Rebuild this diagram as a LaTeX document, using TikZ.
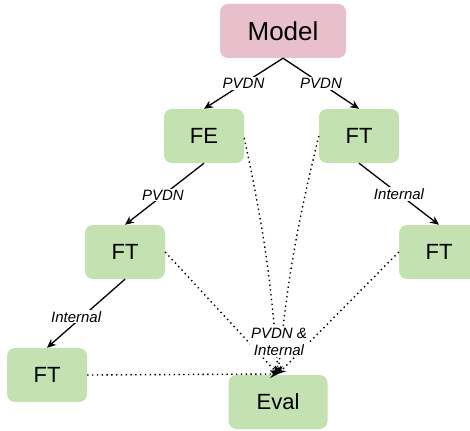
\documentclass[tikz,border=0pt]{standalone}
\usepackage{fontspec}
\setmainfont{Liberation Sans}
\usetikzlibrary{arrows.meta}
\definecolor{boxgreen}{RGB}{196,225,178}
\definecolor{boxpink}{RGB}{231,192,204}
\begin{document}
\begin{tikzpicture}[x=1pt,y=-1pt,
  box/.style={rounded corners=8pt, fill=boxgreen, minimum width=80pt, minimum height=54pt, inner sep=0pt, font=\fontsize{22}{26}\selectfont},
  pinkbox/.style={box, fill=boxpink, minimum width=126pt, font=\fontsize{26}{30}\selectfont},
  solidarrow/.style={line width=1.3pt, -{Stealth[length=9pt,width=8pt,inset=3pt]}},
  dotarrow/.style={line width=1.4pt, dash pattern=on 1.4pt off 3.4pt, -{Stealth[length=8pt,width=8pt,inset=3pt,sep=0pt]}},
  elabel/.style={fill=white, inner sep=1pt, font=\itshape\fontsize{15}{17}\selectfont, align=center}
]
\clip (0,0) rectangle (470,430);
\fill[white] (0,0) rectangle (470,430);
\node[pinkbox] (model) at (283,31) {Model};
\node[box] (fe) at (204,136) {FE};
\node[box] (ft1) at (359,136) {FT};
\node[box] (ft2) at (125,252) {FT};
\node[box] (ft3) at (439,252) {FT};
\node[box] (ft4) at (47,375) {FT};
\node[box, minimum width=99pt] (eval) at (278,402) {Eval};
\coordinate (tgt) at (278,374);

\draw[solidarrow] (model.south) -- node[elabel] {PVDN} (fe.north);
\draw[solidarrow] (model.south) -- node[elabel] {PVDN} (ft1.north);
\draw[solidarrow] (fe.south) -- node[elabel, pos=0.52] {PVDN} (ft2.north);
\draw[solidarrow] (ft1.south) -- node[elabel, pos=0.5] {Internal} (ft3.north);
\draw[solidarrow] (ft2.south) -- node[elabel, pos=0.55, xshift=-6pt] {Internal} (ft4.north);

\draw[dotarrow] ([yshift=-2pt]fe.east) to[bend left=4] (tgt);
\draw[dotarrow] (ft1.west) to[bend right=4] (tgt);
\draw[dotarrow] (ft2.east) -- (tgt);
\draw[dotarrow] (ft3.west) -- (tgt);
\draw[dotarrow] (ft4.east) -- (tgt);
\node[elabel] (lbl) at (279,342) {PVDN \&\\Internal};
\end{tikzpicture}
\end{document}
